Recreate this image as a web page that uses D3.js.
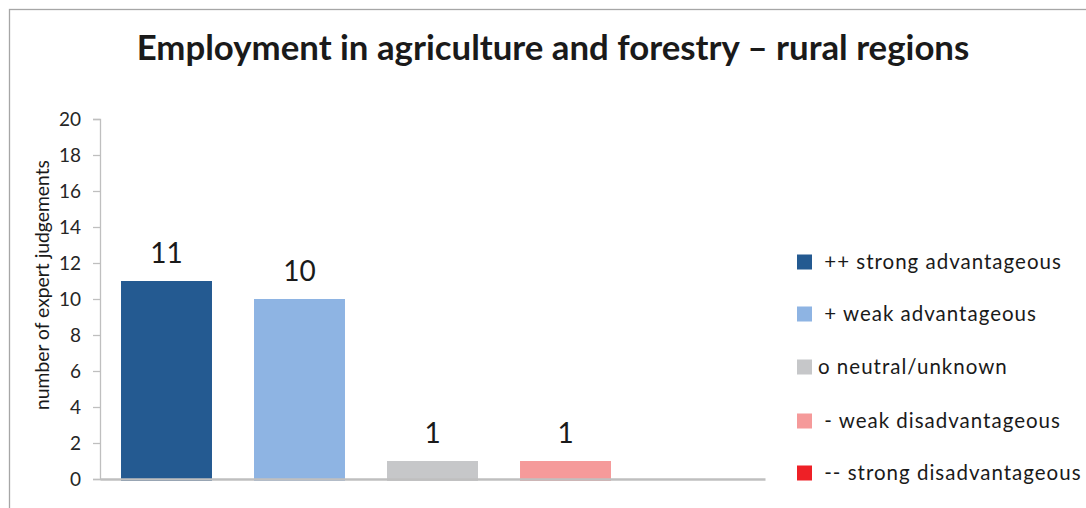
<!DOCTYPE html>
<html><head><meta charset="utf-8">
<script src="https://cdn.jsdelivr.net/npm/d3@7"></script>
<style>
html,body{margin:0;padding:0;background:#fff;}
svg{display:block;font-family:Lato,"Open Sans",sans-serif;}
</style></head>
<body>
<svg id="chart" width="1086" height="508"></svg>
<script>
const titleText = "Employment in agriculture and forestry – rural regions";
const yAxisLabel = "number of expert judgements";
const categories = ["++ strong advantageous", "+ weak advantageous", "o neutral/unknown", "- weak disadvantageous", "-- strong disadvantageous"];
const legendLabels = [" ++ strong advantageous", " + weak advantageous", "o neutral/unknown", " - weak disadvantageous", " -- strong disadvantageous"];
const values = [11, 10, 1, 1, 0];
const colors = ["#245A91", "#8EB4E3", "#C6C7C9", "#F59A9A", "#EE2026"];
const yTicks = [0, 2, 4, 6, 8, 10, 12, 14, 16, 18, 20];

const svg = d3.select("#chart");
// outer border
svg.append("rect").attr("x", 9.5).attr("y", 9.5).attr("width", 1090).attr("height", 520)
  .attr("fill", "none").attr("stroke", "#A6A6A6").attr("stroke-width", 1.3);

const plot = {left: 100, right: 765, top: 119, bottom: 479};
const x = d3.scaleBand().domain(categories).range([plot.left, plot.right]).paddingInner(0.316).paddingOuter(0.158);
const y = d3.scaleLinear().domain([0, 20]).range([plot.bottom, plot.top]);

// title
const title = svg.append("text").attr("x", 553).attr("y", 60).attr("text-anchor", "middle")
  .attr("font-weight", "bold").attr("font-size", 30).attr("fill", "#1a1a1a").text(titleText);
const tw = title.node().getComputedTextLength();
title.attr("font-size", 30 * 833 / tw);

// bars
svg.append("g").selectAll("rect").data(values).join("rect")
  .attr("x", (d, i) => x(categories[i]))
  .attr("width", x.bandwidth())
  .attr("y", d => y(d))
  .attr("height", d => y(0) - y(d) + 2)
  .attr("fill", (d, i) => colors[i])
  .style("display", d => d > 0 ? null : "none");

// y axis
const yAxis = d3.axisLeft(y).tickValues(yTicks).tickSize(7).tickPadding(12);
const gy = svg.append("g").attr("transform", `translate(${plot.left},0)`).call(yAxis);
gy.select(".domain").attr("stroke", "#BFBFBF").attr("stroke-width", 1.3);
gy.selectAll(".tick line").attr("stroke", "#BFBFBF").attr("stroke-width", 1.3);
gy.selectAll(".tick text").attr("font-family", "Lato, sans-serif").attr("font-size", 19).attr("fill", "#262626");

// x axis line
const xAxis = d3.axisBottom(x).tickSize(0).tickFormat("");
const gx = svg.append("g").attr("transform", `translate(0,${plot.bottom})`).call(xAxis);
gx.select(".domain").attr("stroke", "#BFBFBF").attr("stroke-width", 2.5);

// data labels
svg.append("g").selectAll("text").data(values).join("text")
  .attr("x", (d, i) => x(categories[i]) + x.bandwidth() / 2)
  .attr("y", d => y(d) - 18)
  .attr("text-anchor", "middle").attr("font-size", 28).attr("fill", "#1a1a1a")
  .text(d => d > 0 ? d : "");

// y axis label
const yl = svg.append("text").attr("transform", `translate(49,285) rotate(-90)`)
  .attr("text-anchor", "middle").attr("font-size", 16).attr("fill", "#1a1a1a").text(yAxisLabel);
const yw = yl.node().getComputedTextLength();
yl.attr("font-size", 16 * 250 / yw);

// legend
const legendY = [262, 314, 367, 421, 473];
const lg = svg.append("g").selectAll("g").data(legendLabels).join("g")
  .attr("transform", (d, i) => `translate(797,${legendY[i]})`);
lg.append("rect").attr("x", 0).attr("y", -7.5).attr("width", 15).attr("height", 15).attr("fill", (d, i) => colors[i]);
const lt = lg.append("text").attr("x", 21).attr("y", 0).attr("dy", "0.35em").attr("font-size", 20.5)
  .attr("letter-spacing", 1).attr("fill", "#1a1a1a")
  .attr("xml:space", "preserve").style("white-space", "pre").text(d => d);
// fit first legend entry to reference width
const lw = lt.nodes()[0].getComputedTextLength();
const fs = Math.min(22, 20.5 * 244 / lw);
lt.attr("font-size", fs);
</script>
</body></html>
